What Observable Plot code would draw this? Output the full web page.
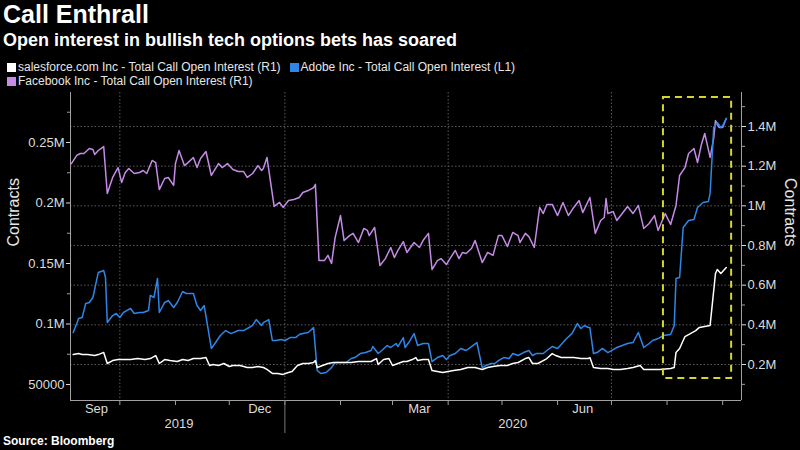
<!DOCTYPE html>
<html>
<head>
<meta charset="utf-8">
<script src="https://cdn.jsdelivr.net/npm/d3@7"></script>
<script src="https://cdn.jsdelivr.net/npm/@observablehq/plot@0.6"></script>
<style>
  html, body { margin: 0; padding: 0; background: #000; }
  #wrap { position: relative; width: 800px; height: 450px; background: #000; overflow: hidden;
          font-family: "Liberation Sans", Arial, sans-serif; color: #fff; }
  #title { position: absolute; left: 3px; top: 0px; font-size: 25px; font-weight: bold; white-space: nowrap; }
  #subtitle { position: absolute; left: 3px; top: 30px; font-size: 18px; font-weight: bold; white-space: nowrap; }
  #legend { position: absolute; left: 7px; top: 60px; width: 540px; font-size: 12px; color: #e6e6e6; line-height: 14px; }
  .item { display: inline-block; white-space: nowrap; margin-right: 9px; }
  .sw { display: inline-block; width: 9px; height: 9px; margin-right: 2px; vertical-align: -1px; }
  #chart { position: absolute; left: 0; top: 86px; }
  #source { position: absolute; left: 3px; top: 434px; font-size: 12px; font-weight: bold; color: #fff; }
</style>
</head>
<body>
<div id="wrap">
  <div id="title"></div>
  <div id="subtitle"></div>
  <div id="legend"></div>
  <div id="chart"></div>
  <div id="source"></div>
</div>
<script>
// ---------------- text ----------------
const titleText = "Call Enthrall";
const subtitleText = "Open interest in bullish tech options bets has soared";
const sourceText = "Source: Bloomberg";
const axisTitle = "Contracts";

// ---------------- legend ----------------
const seriesNames = [
  "salesforce.com Inc - Total Call Open Interest (R1)",
  "Adobe Inc - Total Call Open Interest (L1)",
  "Facebook Inc - Total Call Open Interest (R1)"
];
const seriesColors = ["#ffffff", "#2f86e6", "#c58be6"];

// ---------------- data (thousands of contracts) ----------------
// salesforce.com (right axis)
const crmDates = ["2019-09-05","2019-09-08","2019-09-10","2019-09-13","2019-09-17","2019-09-19","2019-09-22","2019-09-24","2019-09-27","2019-09-30",
"2019-10-04","2019-10-07","2019-10-11","2019-10-15","2019-10-18","2019-10-21","2019-10-23","2019-10-26","2019-10-29","2019-11-02",
"2019-11-05","2019-11-08","2019-11-11","2019-11-15","2019-11-18","2019-11-20","2019-11-22","2019-11-25","2019-11-28","2019-12-01",
"2019-12-03","2019-12-07","2019-12-11","2019-12-14","2019-12-17","2019-12-20","2019-12-22","2019-12-25","2019-12-28","2019-12-31",
"2020-01-03","2020-01-05","2020-01-08","2020-01-11","2020-01-14","2020-01-17","2020-01-18","2020-01-19","2020-01-22","2020-01-25",
"2020-01-28","2020-02-03","2020-02-07","2020-02-11","2020-02-14","2020-02-18","2020-02-21","2020-02-22","2020-02-25","2020-02-28",
"2020-03-01","2020-03-04","2020-03-07","2020-03-09","2020-03-12","2020-03-14","2020-03-15","2020-03-18","2020-03-21","2020-03-23",
"2020-03-26","2020-03-29","2020-04-01","2020-04-04","2020-04-08","2020-04-12","2020-04-16","2020-04-20","2020-04-23","2020-04-26",
"2020-04-30","2020-05-04","2020-05-07","2020-05-10","2020-05-14","2020-05-16","2020-05-18","2020-05-21","2020-05-24","2020-05-26",
"2020-05-29","2020-05-31","2020-06-03","2020-06-07","2020-06-10","2020-06-14","2020-06-18","2020-06-19","2020-06-21","2020-06-25",
"2020-06-29","2020-07-02","2020-07-06","2020-07-10","2020-07-13","2020-07-17","2020-07-19","2020-07-23","2020-07-28","2020-08-03",
"2020-08-05","2020-08-06","2020-08-08","2020-08-11","2020-08-14","2020-08-17","2020-08-19","2020-08-22","2020-08-25","2020-08-28",
"2020-08-29","2020-08-31","2020-09-03"];
const crmValues = [250,255,250,250,245,250,261,205,220,225,
225,225,230,225,230,245,205,225,220,215,
225,220,230,230,235,195,200,195,205,190,
195,195,185,185,190,185,175,155,155,150,
160,165,195,205,205,210,220,185,195,205,
210,210,210,215,215,215,230,200,225,230,
195,205,215,215,225,235,220,225,225,170,
165,160,165,170,175,185,185,175,185,190,
195,195,205,210,230,235,205,205,220,230,
255,245,235,235,235,230,230,235,185,180,
180,175,175,180,185,195,175,175,175,180,
185,261,281,341,356,371,387,392,397,659,
679,659,689];

// Adobe (left axis)
const adbeDates = ["2019-09-05","2019-09-07","2019-09-08","2019-09-10","2019-09-12","2019-09-14","2019-09-16","2019-09-18","2019-09-19","2019-09-22",
"2019-09-23","2019-09-24","2019-09-27","2019-09-29","2019-10-01","2019-10-03","2019-10-05","2019-10-07","2019-10-09","2019-10-12",
"2019-10-14","2019-10-17","2019-10-18","2019-10-20","2019-10-22","2019-10-23","2019-10-26","2019-10-28","2019-10-31","2019-11-02",
"2019-11-05","2019-11-07","2019-11-11","2019-11-13","2019-11-15","2019-11-17","2019-11-21","2019-11-23","2019-11-26","2019-11-29",
"2019-12-02","2019-12-06","2019-12-09","2019-12-12","2019-12-14","2019-12-16","2019-12-19","2019-12-20","2019-12-23","2019-12-25",
"2019-12-27","2019-12-30","2020-01-01","2020-01-04","2020-01-07","2020-01-09","2020-01-11","2020-01-14","2020-01-17","2020-01-19",
"2020-01-21","2020-01-24","2020-01-27","2020-01-29","2020-02-01","2020-02-04","2020-02-07","2020-02-09","2020-02-12","2020-02-15",
"2020-02-18","2020-02-19","2020-02-22","2020-02-24","2020-02-27","2020-02-29","2020-03-03","2020-03-04","2020-03-07","2020-03-08",
"2020-03-10","2020-03-13","2020-03-15","2020-03-18","2020-03-21","2020-03-23","2020-03-26","2020-03-29","2020-03-31","2020-04-02",
"2020-04-05","2020-04-08","2020-04-11","2020-04-14","2020-04-17","2020-04-20","2020-04-22","2020-04-25","2020-04-27","2020-04-29",
"2020-05-02","2020-05-05","2020-05-07","2020-05-10","2020-05-13","2020-05-16","2020-05-18","2020-05-20","2020-05-24","2020-05-26",
"2020-05-29","2020-06-01","2020-06-04","2020-06-06","2020-06-09","2020-06-12","2020-06-14","2020-06-16","2020-06-18","2020-06-19",
"2020-06-21","2020-06-23","2020-06-26","2020-06-29","2020-07-02","2020-07-04","2020-07-07","2020-07-10","2020-07-13","2020-07-16",
"2020-07-19","2020-07-22","2020-07-24","2020-07-27","2020-07-30","2020-08-03","2020-08-05","2020-08-06","2020-08-08","2020-08-10",
"2020-08-13","2020-08-16","2020-08-18","2020-08-21","2020-08-24","2020-08-25","2020-08-27","2020-08-29","2020-08-31","2020-09-01",
"2020-09-03"];
const adbeValues = [93.0,100.4,104.5,105.4,116.9,117.8,121.9,135.9,142.6,144.2,
138.4,101.2,107.0,108.7,105.4,109.5,111.2,112.8,108.7,109.5,
109.5,111.2,123.6,121.9,137.6,109.5,117.8,119.4,113.6,117.8,
126.9,125.2,125.2,115.3,111.2,115.3,79.8,83.9,90.5,94.6,
92.1,94.6,94.6,97.1,98.8,103.7,98.8,101.2,103.7,86.4,
86.4,87.2,86.4,88.8,88.8,91.3,92.1,93.0,97.1,61.6,
59.1,59.9,64.0,68.2,68.2,68.2,71.5,72.3,75.6,76.4,
78.1,81.4,75.6,78.1,82.2,80.6,83.9,81.4,88.8,80.6,
84.7,92.1,82.2,83.9,83.9,69.0,72.3,74.0,70.7,74.0,
75.6,79.8,78.1,81.4,84.7,64.0,65.7,67.4,67.4,69.8,
72.3,71.5,75.6,74.0,76.4,78.1,74.0,75.6,75.6,78.1,
81.4,79.8,84.7,88.0,92.1,100.4,96.3,98.8,97.1,97.1,
75.6,76.4,79.8,76.4,78.9,80.6,82.2,83.9,84.7,93.0,
80.6,83.9,86.4,88.0,90.5,91.3,98.8,137.6,138.4,179.7,
185.5,186.4,196.3,200.4,201.2,207.8,262.4,266.5,262.4,264.0,
269.8];

// Facebook (right axis)
const fbDates = ["2019-09-04","2019-09-07","2019-09-09","2019-09-11","2019-09-14","2019-09-16","2019-09-17","2019-09-19","2019-09-22","2019-09-24",
"2019-09-27","2019-09-30","2019-10-02","2019-10-04","2019-10-06","2019-10-09","2019-10-12","2019-10-14","2019-10-16","2019-10-19",
"2019-10-21","2019-10-23","2019-10-26","2019-10-28","2019-10-31","2019-11-01","2019-11-03","2019-11-06","2019-11-08","2019-11-11",
"2019-11-13","2019-11-15","2019-11-18","2019-11-21","2019-11-25","2019-11-27","2019-11-30","2019-12-03","2019-12-06","2019-12-09",
"2019-12-11","2019-12-14","2019-12-17","2019-12-19","2019-12-20","2019-12-22","2019-12-26","2019-12-29","2019-12-31","2020-01-03",
"2020-01-06","2020-01-09","2020-01-11","2020-01-14","2020-01-17","2020-01-18","2020-01-20","2020-01-23","2020-01-25","2020-01-27",
"2020-01-29","2020-02-01","2020-02-03","2020-02-06","2020-02-08","2020-02-11","2020-02-14","2020-02-16","2020-02-17","2020-02-20",
"2020-02-23","2020-02-26","2020-02-29","2020-03-02","2020-03-04","2020-03-07","2020-03-09","2020-03-11","2020-03-13","2020-03-16",
"2020-03-18","2020-03-21","2020-03-23","2020-03-26","2020-03-28","2020-03-31","2020-04-02","2020-04-05","2020-04-07","2020-04-09",
"2020-04-11","2020-04-14","2020-04-16","2020-04-20","2020-04-23","2020-04-26","2020-04-29","2020-05-01","2020-05-04","2020-05-07",
"2020-05-10","2020-05-11","2020-05-14","2020-05-16","2020-05-19","2020-05-22","2020-05-24","2020-05-26","2020-05-29","2020-06-01",
"2020-06-04","2020-06-07","2020-06-10","2020-06-13","2020-06-15","2020-06-19","2020-06-22","2020-06-25","2020-06-27","2020-06-28",
"2020-06-29","2020-07-02","2020-07-04","2020-07-07","2020-07-10","2020-07-13","2020-07-16","2020-07-19","2020-07-22","2020-07-25",
"2020-07-27","2020-07-31","2020-08-03","2020-08-06","2020-08-08","2020-08-11","2020-08-13","2020-08-16","2020-08-18","2020-08-20",
"2020-08-22","2020-08-25","2020-08-27","2020-08-28","2020-08-30","2020-09-01","2020-09-03"];
const fbValues = [1213,1254,1264,1264,1289,1284,1259,1279,1299,1062,
1143,1193,1118,1168,1188,1163,1168,1178,1163,1229,
1218,1082,1138,1143,1103,1213,1279,1203,1218,1244,
1193,1239,1274,1153,1213,1193,1213,1183,1173,1173,
1143,1163,1203,1178,1188,1244,997,1017,992,1027,
1032,1042,1067,1077,1092,1108,724,724,750,709,
840,951,825,850,861,815,886,876,850,891,
699,734,790,739,775,820,765,790,815,790,
825,861,679,724,734,704,734,775,734,765,
760,785,825,714,765,750,850,850,795,866,
850,815,861,845,790,992,961,1007,1007,951,
1017,951,992,1027,966,1042,861,926,941,1037,
961,971,926,961,997,961,1002,886,911,951,
876,961,906,1002,1153,1193,1264,1289,1218,1304,
1365,1244,1340,1430,1395,1395,1440];

// ---------------- axes / ticks ----------------
const xDomain = ["2019-09-03T12:00Z", "2020-09-11T12:00Z"];
const leftDomain = [36800, 291300];
const rightDomain = [18500, 1571400];
const leftTicks = [50000, 100000, 150000, 200000, 250000];
const leftTickLabels = ["50000", "0.1M", "0.15M", "0.2M", "0.25M"];
const leftMinorTicks = [75000, 125000, 175000, 225000, 275000];
const rightTicks = [200000, 400000, 600000, 800000, 1000000, 1200000, 1400000];
const rightTickLabels = ["0.2M", "0.4M", "0.6M", "0.8M", "1M", "1.2M", "1.4M"];
const rightMinorTicks = [100000, 300000, 500000, 700000, 900000, 1100000, 1300000, 1500000];
const monthTickDates = ["2019-10-01","2019-11-01","2019-12-01","2020-01-01","2020-02-01","2020-03-01","2020-04-01","2020-05-01","2020-06-01","2020-07-01","2020-08-01","2020-09-01"];
const monthLabelDates = ["2019-09-18","2019-12-18","2020-03-16","2020-06-15"];
const monthLabels = ["Sep", "Dec", "Mar", "Jun"];
const yearLabelDates = ["2019-11-03", "2020-05-07"];
const yearLabels = ["2019", "2020"];
const yearBreak = ["2020-01-01"];
const gridDates = ["2019-10-01", "2020-01-01", "2020-04-01", "2020-07-01"];
// highlighted period (dashed box): dates and left-axis values
const boxStart = ["2020-07-30"];
const boxEnd = ["2020-09-06"];
const boxLow = [55000];
const boxHigh = [287200];

// ---------------- build ----------------
document.getElementById("title").textContent = titleText;
document.getElementById("subtitle").textContent = subtitleText;
document.getElementById("source").textContent = sourceText;
const legend = document.getElementById("legend");
seriesNames.forEach((n, i) => {
  const it = document.createElement("span");
  it.className = "item";
  const sw = document.createElement("span");
  sw.className = "sw";
  sw.style.background = seriesColors[i];
  it.appendChild(sw);
  it.appendChild(document.createTextNode(n));
  legend.appendChild(it);
  if (i === 1) legend.appendChild(document.createElement("br"));
});

const parseDate = d3.utcParse("%Y-%m-%d");
const rightToLeft = r => leftDomain[0] + (r - rightDomain[0]) * (leftDomain[1] - leftDomain[0]) / (rightDomain[1] - rightDomain[0]);
const rows = (dates, vals, f) => dates.map((d, i) => ({date: parseDate(d), y: f(vals[i] * 1000)}));
const crm = rows(crmDates, crmValues, rightToLeft);
const adbe = rows(adbeDates, adbeValues, v => v);
const fb = rows(fbDates, fbValues, rightToLeft);

const xd = xDomain.map(d => new Date(d));
const leftLabelMap = new Map(leftTicks.map((t, i) => [t, leftTickLabels[i]]));
const rightPos = rightTicks.map(rightToLeft);
const rightLabelMap = new Map(rightPos.map((t, i) => [t, rightTickLabels[i]]));
const monthLabelMap = new Map(monthLabelDates.map((d, i) => [+parseDate(d), monthLabels[i]]));
const yearLabelMap = new Map(yearLabelDates.map((d, i) => [+parseDate(d), yearLabels[i]]));
const box = boxStart.map((d, i) => ({x1: parseDate(d), x2: parseDate(boxEnd[i]), y1: boxLow[i], y2: boxHigh[i]}));

const gridColor = "#5c5c5c";
const axisColor = "#a0a0a0";

const chart = Plot.plot({
  width: 800,
  height: 350,
  marginTop: 6,
  marginBottom: 36,
  marginLeft: 70,
  marginRight: 59,
  style: {background: "transparent", color: "#dcdcdc", fontFamily: "'Liberation Sans', Arial, sans-serif", fontSize: "13px"},
  x: {type: "utc", domain: xd, axis: null},
  y: {domain: leftDomain, axis: null, label: null},
  marks: [
    // gridlines
    Plot.ruleY(rightPos, {stroke: gridColor, strokeDasharray: "1.5,2", strokeWidth: 1}),
    Plot.ruleX(gridDates.map(parseDate), {stroke: gridColor, strokeDasharray: "1.5,2", strokeWidth: 1}),
    // frame lines
    Plot.ruleX([xd[0]], {stroke: axisColor}),
    Plot.ruleX([xd[1]], {stroke: axisColor}),
    Plot.ruleY([leftDomain[0]], {stroke: axisColor}),
    // left axis
    Plot.axisY(leftTicks, {anchor: "left", tickSize: 4, tickPadding: 2, tickFormat: d => leftLabelMap.get(d), fontSize: 13, label: null, color: "#dcdcdc"}),
    Plot.axisY(leftMinorTicks, {anchor: "left", tickSize: 3, tickFormat: () => "", label: null, color: axisColor}),
    // right axis
    Plot.axisY(rightPos, {anchor: "right", tickSize: 4, tickPadding: 2, tickFormat: d => rightLabelMap.get(d), fontSize: 13, label: null, color: "#dcdcdc"}),
    Plot.axisY(rightMinorTicks.map(rightToLeft), {anchor: "right", tickSize: 3, tickFormat: () => "", label: null, color: axisColor}),
    // bottom axis
    Plot.axisX(monthTickDates.map(parseDate), {anchor: "bottom", tickSize: 5, tickFormat: () => "", label: null, color: axisColor}),
    Plot.axisX(monthLabelDates.map(parseDate), {anchor: "bottom", tickSize: 0, tickPadding: 3, tickFormat: d => monthLabelMap.get(+d), fontSize: 13, label: null, color: "#dcdcdc"}),
    Plot.axisX(yearLabelDates.map(parseDate), {anchor: "bottom", tickSize: 0, tickPadding: 18, tickFormat: d => yearLabelMap.get(+d), fontSize: 13, label: null, color: "#dcdcdc"}),
    Plot.axisX(yearBreak.map(parseDate), {anchor: "bottom", tickSize: 33, tickFormat: () => "", label: null, color: "#777"}),
    // axis titles
    Plot.text([axisTitle], {frameAnchor: "left", dx: -57, rotate: -90, text: d => d, fontSize: 16, fill: "#e6e6e6"}),
    Plot.text([axisTitle], {frameAnchor: "right", dx: 49, rotate: 90, text: d => d, fontSize: 16, fill: "#e6e6e6"}),
    // series
    Plot.line(fb, {x: "date", y: "y", stroke: seriesColors[2], strokeWidth: 1.5}),
    Plot.line(adbe, {x: "date", y: "y", stroke: seriesColors[1], strokeWidth: 1.5}),
    Plot.line(crm, {x: "date", y: "y", stroke: seriesColors[0], strokeWidth: 1.5}),
    // highlight box
    Plot.rect(box, {x1: "x1", x2: "x2", y1: "y1", y2: "y2", fill: "none", stroke: "#d6d62e", strokeWidth: 2, strokeDasharray: "7,5"})
  ]
});
document.getElementById("chart").appendChild(chart);
</script>
</body>
</html>
